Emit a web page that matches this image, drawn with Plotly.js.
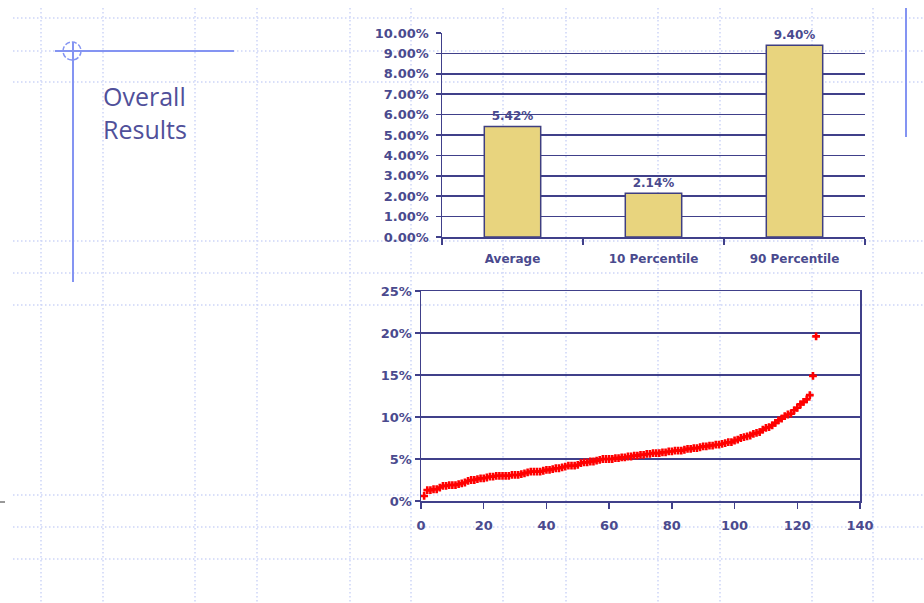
<!DOCTYPE html>
<html>
<head>
<meta charset="utf-8">
<script src="https://cdn.plot.ly/plotly-3.0.1.min.js"></script>
<style>
  html, body { margin: 0; padding: 0; background: #ffffff; }
  #chart { width: 924px; height: 603px; }
</style>
</head>
<body>
<div id="chart"></div>
<script>
// Summary bars
const summaryLabels = ["Average", "10 Percentile", "90 Percentile"];
const summaryValues = [5.42, 2.14, 9.40];

// Individual results, sorted ascending (percent)
const rankIndex = [
  1, 2, 3, 4, 5, 6, 7, 8, 9, 10,
  11, 12, 13, 14, 15, 16, 17, 18, 19, 20,
  21, 22, 23, 24, 25, 26, 27, 28, 29, 30,
  31, 32, 33, 34, 35, 36, 37, 38, 39, 40,
  41, 42, 43, 44, 45, 46, 47, 48, 49, 50,
  51, 52, 53, 54, 55, 56, 57, 58, 59, 60,
  61, 62, 63, 64, 65, 66, 67, 68, 69, 70,
  71, 72, 73, 74, 75, 76, 77, 78, 79, 80,
  81, 82, 83, 84, 85, 86, 87, 88, 89, 90,
  91, 92, 93, 94, 95, 96, 97, 98, 99, 100,
  101, 102, 103, 104, 105, 106, 107, 108, 109, 110,
  111, 112, 113, 114, 115, 116, 117, 118, 119, 120,
  121, 122, 123, 124, 125, 126
];
const resultValues = [
  0.6, 1.3, 1.3, 1.4, 1.4, 1.6, 1.8, 1.8, 1.9, 1.9,
  1.9, 2.0, 2.1, 2.2, 2.4, 2.5, 2.5, 2.6, 2.7, 2.7,
  2.8, 2.9, 2.9, 3.0, 3.0, 3.0, 3.0, 3.0, 3.1, 3.1,
  3.1, 3.2, 3.3, 3.4, 3.5, 3.5, 3.5, 3.5, 3.6, 3.7,
  3.7, 3.8, 3.9, 3.9, 4.0, 4.1, 4.2, 4.2, 4.2, 4.3,
  4.5, 4.6, 4.6, 4.7, 4.7, 4.8, 4.9, 5.0, 5.0, 5.0,
  5.0, 5.1, 5.1, 5.2, 5.2, 5.3, 5.3, 5.4, 5.4, 5.5,
  5.5, 5.6, 5.6, 5.7, 5.7, 5.7, 5.8, 5.8, 5.9, 5.9,
  6.0, 6.0, 6.0, 6.1, 6.2, 6.2, 6.3, 6.3, 6.4, 6.5,
  6.5, 6.6, 6.6, 6.7, 6.7, 6.8, 6.9, 7.0, 7.0, 7.2,
  7.3, 7.5, 7.6, 7.7, 7.8, 8.0, 8.1, 8.2, 8.5, 8.7,
  8.8, 9.0, 9.3, 9.6, 9.8, 10.1, 10.3, 10.4, 10.8, 11.1,
  11.5, 11.8, 12.1, 12.6, 14.9, 19.6
];

// Slide guide positions (px)
const guideCols = [41, 103, 195, 257, 350, 411, 503, 566, 658, 720, 812, 873];
const guideRows = [18, 51, 82, 241, 273, 305, 495, 527, 559];

const W = 924, H = 603;
const px = x => x / W;
const py = y => 1 - y / H;

const NAVY = "#40408a";
const TEXT = "#4a4a8e";
const GUIDE = "#cdd5f7";
const ACCENT = "#8494f2";
const tickFont = { family: "DejaVu Sans", size: 13, color: TEXT, weight: "bold" };

const shapes = [];
guideCols.forEach(x => shapes.push({
  type: "line", xref: "paper", yref: "paper", layer: "below",
  x0: px(x), x1: px(x), y0: py(8), y1: py(603),
  line: { color: GUIDE, width: 1.5, dash: "1.5px,2.5px" }
}));
guideRows.forEach(y => shapes.push({
  type: "line", xref: "paper", yref: "paper", layer: "below",
  x0: px(13), x1: px(924), y0: py(y), y1: py(y),
  line: { color: GUIDE, width: 1.5, dash: "1.5px,2.5px" }
}));
// title bracket
shapes.push({ type: "line", xref: "paper", yref: "paper", x0: px(55), x1: px(234), y0: py(51), y1: py(51), line: { color: ACCENT, width: 2 } });
shapes.push({ type: "line", xref: "paper", yref: "paper", x0: px(73), x1: px(73), y0: py(42), y1: py(282), line: { color: ACCENT, width: 2 } });
shapes.push({ type: "circle", xref: "paper", yref: "paper", x0: px(63), x1: px(81), y0: py(42), y1: py(60), line: { color: ACCENT, width: 1.5, dash: "5px,2px" } });
shapes.push({ type: "line", xref: "paper", yref: "paper", x0: px(906), x1: px(906), y0: py(8), y1: py(137), line: { color: ACCENT, width: 2 } });
shapes.push({ type: "line", xref: "paper", yref: "paper", x0: px(0), x1: px(5), y0: py(502), y1: py(502), line: { color: "#333333", width: 1 } });

const traces = [
  {
    type: "bar", x: summaryLabels, y: summaryValues,
    xaxis: "x", yaxis: "y", width: 0.4,
    marker: { color: "#e8d47e", line: { color: "#3f3f80", width: 1.5 } },
    text: summaryValues.map(v => v.toFixed(2) + "%"),
    textposition: "outside", cliponaxis: false, constraintext: "none",
    textfont: { family: "DejaVu Sans", size: 12, color: TEXT, weight: "bold" },
    hoverinfo: "skip"
  },
  {
    type: "scatter", mode: "markers", x: rankIndex, y: resultValues,
    xaxis: "x2", yaxis: "y2", cliponaxis: false,
    marker: { symbol: "cross", size: 6.5, color: "#ff0000" },
    hoverinfo: "skip"
  }
];

const layout = {
  width: W, height: H,
  margin: { l: 0, r: 0, t: 0, b: 0 },
  paper_bgcolor: "rgba(0,0,0,0)", plot_bgcolor: "rgba(0,0,0,0)",
  showlegend: false,
  font: { family: "DejaVu Sans", color: TEXT },
  xaxis: {
    domain: [px(442), px(865)], anchor: "y",
    type: "category", tickson: "boundaries",
    ticks: "outside", ticklen: 6, tickwidth: 1.5, tickcolor: NAVY,
    showline: true, linecolor: NAVY, linewidth: 1.5,
    showgrid: false, ticklabelstandoff: 10,
    tickfont: { ...tickFont, size: 12 }
  },
  yaxis: {
    domain: [py(237), py(33)], anchor: "x",
    range: [0, 10], dtick: 1, tickformat: ".2f", ticksuffix: "%",
    ticks: "outside", ticklen: 5, tickwidth: 1.5, tickcolor: NAVY,
    showline: true, linecolor: NAVY, linewidth: 1.5,
    showgrid: true, gridcolor: NAVY, gridwidth: 1.6, zeroline: false,
    ticklabelstandoff: 4, tickfont: tickFont
  },
  xaxis2: {
    domain: [px(421), px(860)], anchor: "y2",
    range: [0, 140], dtick: 20,
    ticks: "outside", ticklen: 6, tickwidth: 1.5, tickcolor: NAVY,
    showline: true, mirror: true, linecolor: NAVY, linewidth: 1.5,
    showgrid: false, zeroline: false, ticklabelstandoff: 6, tickfont: tickFont
  },
  yaxis2: {
    domain: [py(501), py(291)], anchor: "x2",
    range: [0, 25], dtick: 5, ticksuffix: "%",
    ticks: "outside", ticklen: 5, tickwidth: 1.5, tickcolor: NAVY,
    showline: true, mirror: true, linecolor: NAVY, linewidth: 1.5,
    showgrid: true, gridcolor: NAVY, gridwidth: 1.6, zeroline: false,
    tickfont: tickFont
  },
  shapes: shapes,
  annotations: [{
    xref: "paper", yref: "paper", x: px(101), y: py(77),
    xanchor: "left", yanchor: "top", align: "left", showarrow: false,
    text: "Overall<br>Results",
    font: { family: "Open Sans", size: 25, color: "#50509a" }
  }]
};

Plotly.newPlot("chart", traces, layout, { staticPlot: true, displayModeBar: false });
</script>
</body>
</html>
